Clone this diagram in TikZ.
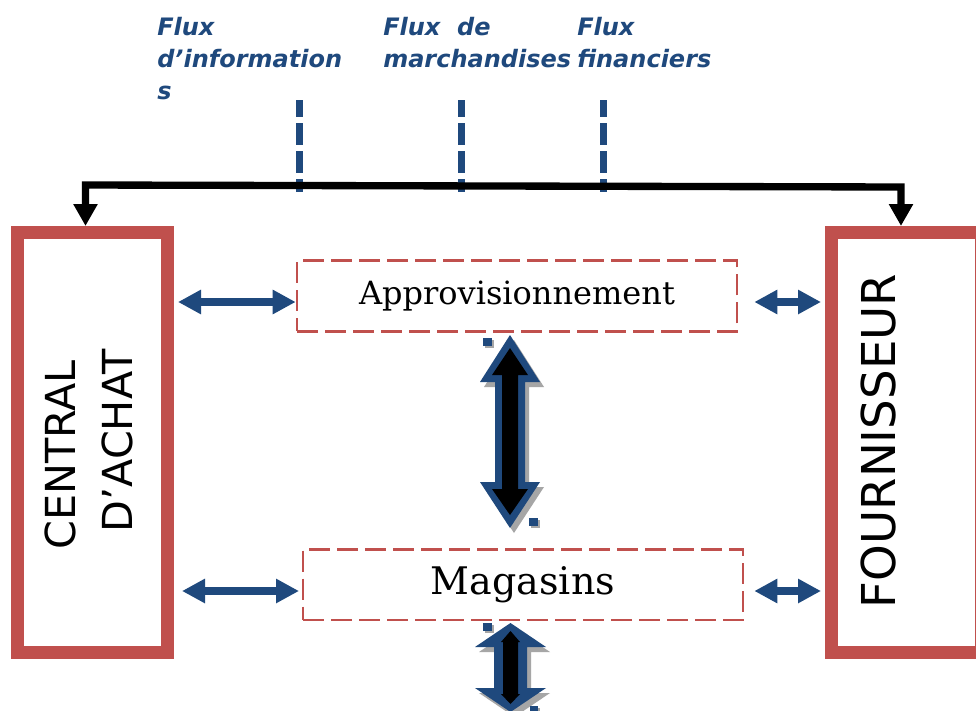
\documentclass[tikz,border=0pt]{standalone}
\usepackage{fontspec}
\usetikzlibrary{arrows.meta,calc}
\newfontfamily\dsans{DejaVu Sans}
\newfontfamily\dserif{DejaVu Serif}
\definecolor{boxred}{HTML}{C0504D}
\definecolor{flowblue}{HTML}{1F497D}
\definecolor{shadowgray}{HTML}{A6A6A6}
\tikzset{
  bigbox/.style={draw=boxred, line width=9.75pt, minimum width=112.5pt, minimum height=315pt, inner sep=0pt},
  dashbox/.style={draw=boxred, line width=2pt, dash pattern=on 15.75pt off 5.25pt, minimum width=330pt, minimum height=53pt, inner sep=0pt, font=\dserif},
  sidelabel/.style={rotate=90, anchor=base, inner sep=0pt},
  flowlabel/.style={font=\dsans\bfseries\itshape\fontsize{18pt}{24pt}\selectfont, text=flowblue, anchor=base west, inner sep=0pt},
  flowtick/.style={draw=flowblue, line width=5.25pt, dash pattern=on 16.5pt off 4.5pt, dash phase=3.75pt},
  topbar/.style={draw=black, line width=5.5pt, line join=miter, {Triangle[length=16.5pt,width=17.25pt]}-{Triangle[length=16.5pt,width=17.25pt]}},
  barrow/.style={draw=flowblue, line width=6pt, {Triangle[length=17.25pt,width=17.25pt]}-{Triangle[length=17.25pt,width=17.25pt]}},
  handle/.style={fill=flowblue},
  handleshadow/.style={fill=shadowgray},
}
\begin{document}
\begin{tikzpicture}[x=0.75pt,y=-0.75pt]
\useasboundingbox (0,0) rectangle (976,711);
\clip (0,0) rectangle (976,711);
\fill[white] (0,0) rectangle (976,711);

% main boxes
\node[bigbox] (central) at (92.5,442.5) {};
\node[bigbox] (fourn) at (906.5,442.5) {};
\node[sidelabel, font=\dsans\fontsize{31pt}{37pt}\selectfont] (tC) at (75,455) {CENTRAL};
\node[sidelabel, font=\dsans\fontsize{31pt}{37pt}\selectfont] (tD) at (132,441) {D’ACHAT};
\node[sidelabel, font=\dsans\fontsize{35pt}{42pt}\selectfont] (tF) at (895,441) {FOURNISSEUR};

% dashed boxes
\node[dashbox, font=\dserif\fontsize{24pt}{29pt}\selectfont] (appro) at (517,296) {Approvisionnement};
\node[dashbox, font=\dserif\fontsize{28.5pt}{34pt}\selectfont] (mag) at (523,584.5) {Magasins};

% top labels
\node[flowlabel] (fi1) at (157,35) {Flux};
\node[flowlabel] (fi2) at (157,67) {d’information};
\node[flowlabel] (fi3) at (157,99) {s};
\node[flowlabel] (fm1) at (383,35) {Flux\ \ de};
\node[flowlabel] (fm2) at (383,67) {marchandises};
\node[flowlabel] (ff1) at (577,35) {Flux};
\node[flowlabel] (ff2) at (577,67) {financiers};

% dashed ticks
\coordinate (t1a) at (299,100); \coordinate (t1b) at (299,192);
\coordinate (t2a) at (461,100); \coordinate (t2b) at (461,192);
\coordinate (t3a) at (603,100); \coordinate (t3b) at (603,192);
\draw[flowtick] (t1a) -- (t1b);
\draw[flowtick] (t2a) -- (t2b);
\draw[flowtick] (t3a) -- (t3b);

% top bar with arrows
\coordinate (aL) at (85.5,185);
\coordinate (aR) at (901,187);
\draw[topbar] (central.north -| aL) -- (aL) -- (aR) -- (fourn.north -| aR);

% horizontal blue arrows
\coordinate (r1) at (0,302);
\coordinate (r2) at (0,591);
\draw[barrow] ([xshift=3pt]central.east |- r1) -- (appro.west |- r1);
\draw[barrow] ([xshift=6pt]central.east |- r2) -- ([xshift=-2pt]mag.west |- r2);
\draw[barrow] ([xshift=12pt]appro.east |- r1) -- ([xshift=-3pt]fourn.west |- r1);
\draw[barrow] ([xshift=7.5pt]mag.east |- r2) -- ([xshift=-3pt]fourn.west |- r2);

% vertical block arrow 1 (shadow, blue outline, black core)
\fill[shadowgray, shift={(4,5)}] (510,335) -- (540,382) -- (525,382) -- (525,482) -- (540,482) -- (510,528) -- (480,482) -- (495,482) -- (495,382) -- (480,382) -- cycle;
\fill[flowblue] (510,335) -- (540,382) -- (525,382) -- (525,482) -- (540,482) -- (510,528) -- (480,482) -- (495,482) -- (495,382) -- (480,382) -- cycle;
\fill[black] (510,348) -- (528,375) -- (518,375) -- (518,489) -- (528,489) -- (510,515) -- (492,489) -- (502,489) -- (502,375) -- (492,375) -- cycle;
\fill[handleshadow] (485,340) rectangle (494,348);
\fill[handle] (483,338) rectangle (492,346);
\fill[handleshadow] (531,520) rectangle (540,528);
\fill[handle] (529,518) rectangle (538,526);

% vertical block arrow 2
\fill[shadowgray, shift={(4,5)}] (510.5,623) -- (546,647) -- (527,647) -- (527,688) -- (546,688) -- (510.5,712) -- (475,688) -- (494,688) -- (494,647) -- (475,647) -- cycle;
\fill[flowblue] (510.5,623) -- (546,647) -- (527,647) -- (527,688) -- (546,688) -- (510.5,712) -- (475,688) -- (494,688) -- (494,647) -- (475,647) -- cycle;
\fill[black] (510.5,631) -- (520,642) -- (518,642) -- (518,694) -- (520,694) -- (510.5,704) -- (501,694) -- (503,694) -- (503,642) -- (501,642) -- cycle;
\fill[handleshadow] (485,625) rectangle (494,633);
\fill[handle] (483,623) rectangle (492,631);
\fill[handleshadow] (532,708) rectangle (540,716);
\fill[handle] (530,706) rectangle (538,714);
\end{tikzpicture}
\end{document}
